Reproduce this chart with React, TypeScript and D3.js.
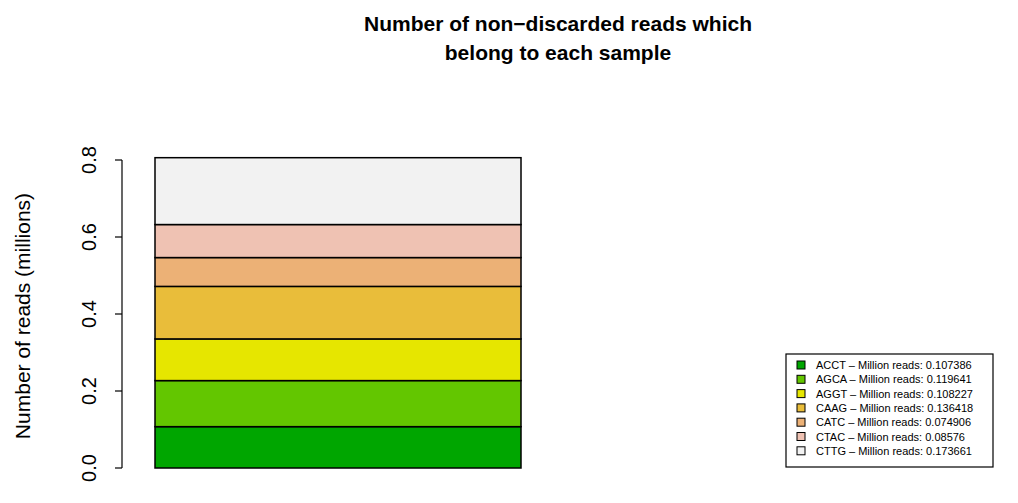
import React from "react";
import * as d3 from "d3";

const samples = ["ACCT", "AGCA", "AGGT", "CAAG", "CATC", "CTAC", "CTTG"];
const values = [0.107386, 0.119641, 0.108227, 0.136418, 0.074906, 0.08576, 0.173661];
const labels = ["0.107386", "0.119641", "0.108227", "0.136418", "0.074906", "0.08576", "0.173661"];
const colors = ["#00A600", "#63C600", "#E6E600", "#E9BD3A", "#ECB176", "#EFC2B3", "#F2F2F2"];
const ticks = [0, 0.2, 0.4, 0.6, 0.8];

export default function App() {
  const y = d3.scaleLinear().domain([0, 0.8]).range([468, 160]);
  let cum = 0;
  const segs = values.map((v, i) => {
    const s = { y0: cum, y1: cum + v, c: colors[i] };
    cum += v;
    return s;
  });
  const font = "Liberation Sans, Arial, sans-serif";
  return (
    <svg width={1018} height={503} style={{ position: "absolute", left: 0, top: 0 }} fontFamily={font}>
      <rect width={1018} height={503} fill="#fff" />
      <text x={558} y={31} textAnchor="middle" fontSize={21} fontWeight="bold">Number of non−discarded reads which</text>
      <text x={558} y={60} textAnchor="middle" fontSize={21} fontWeight="bold">belong to each sample</text>
      {segs.map((s, i) => (
        <rect key={i} x={155} width={366} y={y(s.y1)} height={y(s.y0) - y(s.y1)} fill={s.c} stroke="#000" strokeWidth={1.5} />
      ))}
      <line x1={122} x2={122} y1={y(0)} y2={y(0.8)} stroke="#000" strokeWidth={1.2} />
      {ticks.map((t) => (
        <g key={t}>
          <line x1={115} x2={122} y1={y(t)} y2={y(t)} stroke="#000" strokeWidth={1.2} />
          <text transform={`translate(96,${y(t)}) rotate(-90)`} textAnchor="middle" fontSize={20}>{t.toFixed(1)}</text>
        </g>
      ))}
      <text transform={`translate(30,${y(0.4) + 2}) rotate(-90)`} textAnchor="middle" fontSize={21}>Number of reads (millions)</text>
      <rect x={786} y={354} width={207} height={113} fill="#fff" stroke="#000" strokeWidth={1.2} />
      {samples.map((s, i) => (
        <g key={s}>
          <rect x={797} y={365 + i * 14.3 - 4} width={8} height={8} fill={colors[i]} stroke="#000" strokeWidth={1} />
          <text x={816} y={365 + i * 14.3 + 4} fontSize={11}>{`${s} – Million reads: ${labels[i]}`}</text>
        </g>
      ))}
    </svg>
  );
}
